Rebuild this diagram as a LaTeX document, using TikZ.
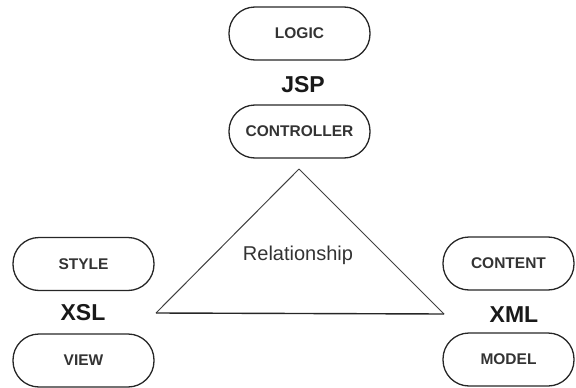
\documentclass[tikz,border=0pt]{standalone}
\usepackage{fontspec}
\setmainfont{Liberation Sans}
\begin{document}
\begin{tikzpicture}[x=1pt,y=-1pt,
  pill/.style={draw=black!85, line width=1.3pt, rounded corners=26pt,
    minimum width=141pt, minimum height=53pt, inner sep=0pt,
    text=black!80, font=\fontsize{15.5}{18}\selectfont\bfseries},
  tech/.style={text=black!90, font=\fontsize{23}{26}\selectfont\bfseries, inner sep=0pt},
  edge/.style={draw=black!75, line width=1pt, line join=miter}]
\useasboundingbox (0,0) rectangle (576,388);

% JSP column
\node[pill] (logic) at (299.5,33.5) {LOGIC};
\node[tech] (jsp) at (303,85) {JSP};
\node[pill] (controller) at (299.5,131.5) {CONTROLLER};

% XSL column
\node[pill] (style) at (83.5,264) {STYLE};
\node[tech] (xsl) at (83,313) {XSL};
\node[pill] (view) at (83.5,360.5) {VIEW};

% XML column
\node[pill, minimum width=131pt] (content) at (508.5,263.5) {CONTENT};
\node[tech] (xml) at (514,315) {XML};
\node[pill, minimum width=131pt] (model) at (508.5,359.5) {MODEL};

% relationship triangle
\coordinate (apex) at (299,169);
\coordinate (bl) at (156,313);
\coordinate (br) at (444,314);
\draw[edge] (apex) -- (bl);
\draw[edge] (apex) -- (br);
\draw[edge, line width=1.4pt, draw=black!85] (bl) -- (br);
\node[text=black!80, font=\fontsize{20}{24}\selectfont, inner sep=0pt] (rel) at (298,255) {Relationship};
\end{tikzpicture}
\end{document}
